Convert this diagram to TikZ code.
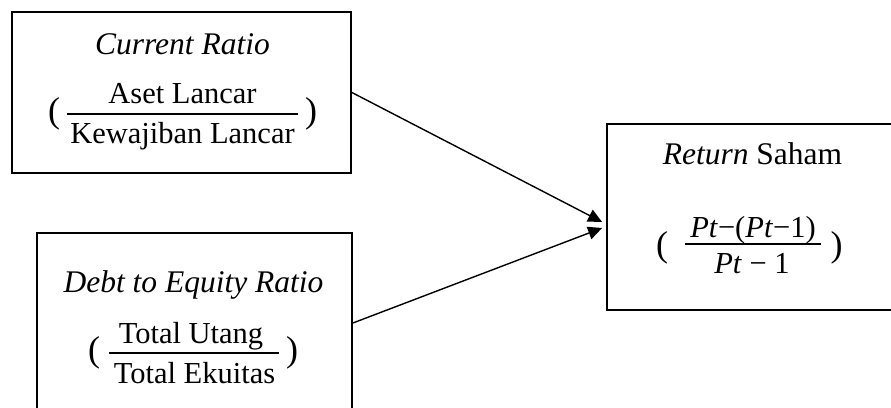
\documentclass[tikz,border=0pt]{standalone}
\usepackage{fontspec}
\setmainfont{Liberation Serif}
\usetikzlibrary{arrows.meta,calc}
\tikzset{
  box/.style={draw, line width=1.8bp, rectangle, inner sep=0pt},
  title/.style={anchor=base, inner sep=0pt, font=\fontsize{31.5bp}{38bp}\selectfont},
  frac/.style={anchor=base, inner sep=0pt, font=\fontsize{30.5bp}{36bp}\selectfont},
  paren/.style={anchor=center, inner sep=0pt, font=\fontsize{36bp}{40bp}\selectfont},
  fracrule/.style={line width=2.8bp},
  link/.style={line width=1.4bp, -{Triangle[length=14bp,width=13bp]}}
}
\begin{document}
\begin{tikzpicture}[x=1bp, y=-1bp]
\path[use as bounding box, clip] (0,0) rectangle (891,407);

% boxes
\node[box, minimum width=339bp, minimum height=161bp] (cr) at (181.5,92.5) {};
\node[box, minimum width=315bp, minimum height=180bp] (der) at (194.5,323) {};
\node[box, minimum width=291bp, minimum height=186bp] (rs) at (752.5,217) {};

% Current Ratio
\node[title] (crT) at (182.5,54) {\textit{Current Ratio}};
\node[frac] (crN) at (182.5,103) {Aset Lancar};
\draw[fracrule] (67,114) -- (298,114);
\node[frac] (crD) at (182.5,143) {Kewajiban Lancar};
\node[paren] (crL) at (54,114) {(};
\node[paren] (crR) at (311,114) {)};

% Debt to Equity Ratio
\node[title] (derT) at (193.5,292) {\textit{Debt to Equity Ratio}};
\node[frac] (derN) at (191,343) {Total Utang};
\draw[fracrule] (109,353) -- (279,353);
\node[frac] (derD) at (194.5,383) {Total Ekuitas};
\node[paren] (derL) at (94,353) {(};
\node[paren] (derR) at (292,353) {)};

% Return Saham
\node[title] (rsT) at (752.5,164) {\textit{Return} Saham};
\node[frac] (rsN) at (753,237) {\textit{Pt}−(\textit{Pt}−1)};
\draw[fracrule] (685,244) -- (821,244);
\node[frac] (rsD) at (752,273) {\textit{Pt} − 1};
\node[paren] (rsL) at (662,248) {(};
\node[paren] (rsR) at (836.5,248) {)};

% connectors
\coordinate (tip1) at ($(rs.west)+(-4,5)$);
\coordinate (tip2) at ($(rs.west)+(-4,11)$);
\draw[link] (cr.east) -- (tip1);
\draw[link] (der.east) -- (tip2);
\end{tikzpicture}
\end{document}
